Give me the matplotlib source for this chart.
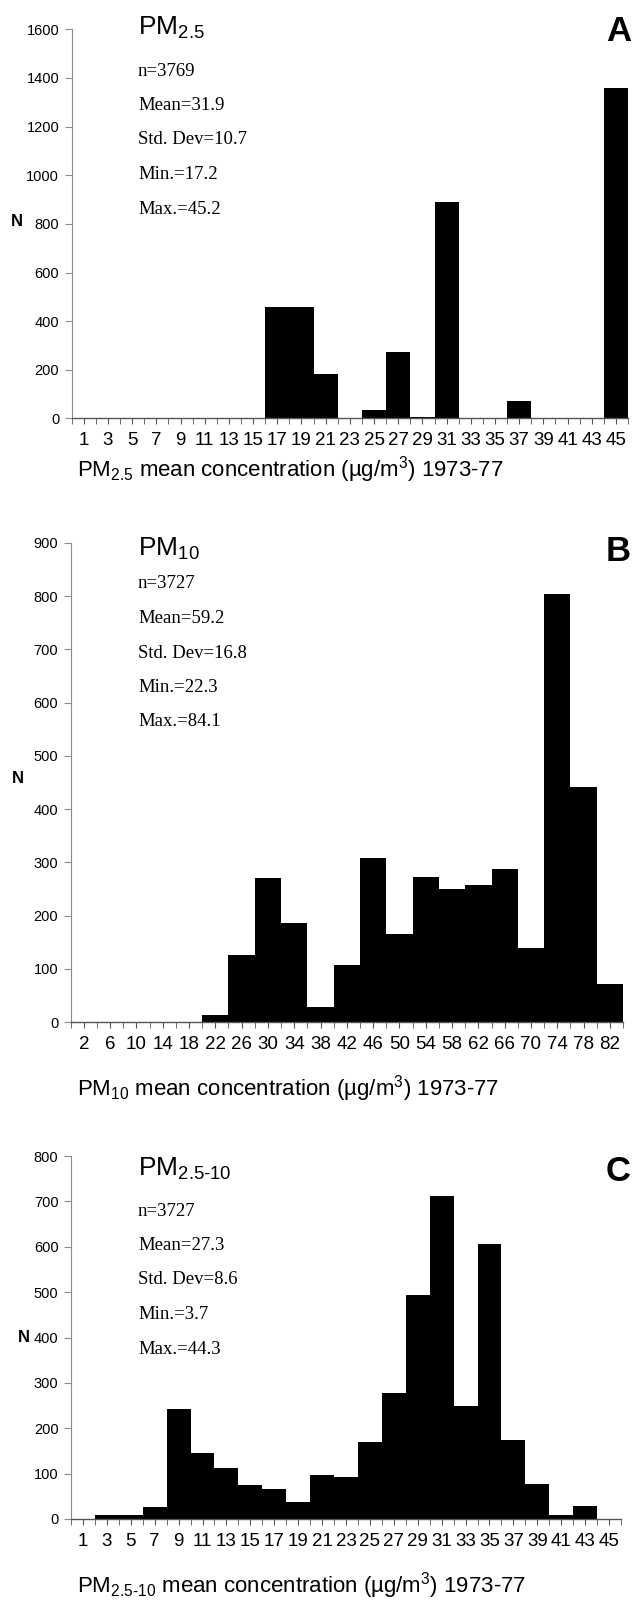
import numpy as np
import matplotlib
matplotlib.use('Agg')
import matplotlib.pyplot as plt
from matplotlib import font_manager

# ---- data ----
cats_a = [1, 3, 5, 7, 9, 11, 13, 15, 17, 19, 21, 23, 25, 27, 29, 31, 33, 35, 37, 39, 41, 43, 45]
n_a    = [1, 1, 1, 1, 1, 1, 1, 1, 460, 460, 183, 2, 33, 275, 5, 889, 4, 0, 73, 3, 3, 3, 1357]
stats_a = ['n=3769', 'Mean=31.9', 'Std. Dev=10.7', 'Min.=17.2', 'Max.=45.2']

cats_b = [2, 6, 10, 14, 18, 22, 26, 30, 34, 38, 42, 46, 50, 54, 58, 62, 66, 70, 74, 78, 82]
n_b    = [0, 0, 0, 0, 0, 13, 126, 271, 186, 28, 108, 309, 165, 273, 250, 258, 287, 139, 805, 442, 71]
stats_b = ['n=3727', 'Mean=59.2', 'Std. Dev=16.8', 'Min.=22.3', 'Max.=84.1']

cats_c = [1, 3, 5, 7, 9, 11, 13, 15, 17, 19, 21, 23, 25, 27, 29, 31, 33, 35, 37, 39, 41, 43, 45]
n_c    = [0, 8, 8, 26, 242, 145, 113, 75, 67, 37, 96, 92, 170, 277, 494, 712, 248, 606, 175, 77, 8, 28, 0]
stats_c = ['n=3727', 'Mean=27.3', 'Std. Dev=8.6', 'Min.=3.7', 'Max.=44.3']

W, H = 632, 1600
plt.rcParams['font.family'] = ['Liberation Sans', 'DejaVu Sans']
plt.rcParams['mathtext.fontset'] = 'custom'
plt.rcParams['mathtext.rm'] = 'Liberation Sans'
plt.rcParams['mathtext.it'] = 'Liberation Sans:italic'
plt.rcParams['mathtext.bf'] = 'Liberation Sans:bold'

names = {f.name for f in font_manager.fontManager.ttflist}
narrow = 'Liberation Sans Narrow' if 'Liberation Sans Narrow' in names else 'Liberation Sans'

fig = plt.figure(figsize=(W / 100, H / 100), dpi=100)


def fx(x):
    return x / W


def fy(y):
    return 1 - y / H


def panel(cats, vals, ymax, ystep, left, right, ytop, yzero, title, letter, stats,
          stat_y, stat_dy, title_y, letter_y, n_xy, xlabel, xlabel_y):
    ax = fig.add_axes([fx(left), fy(yzero), (right - left) / W, (yzero - ytop) / H])
    pos = np.arange(len(cats))
    # adjoining histogram bars drawn as one filled step outline (no seams)
    ax.stairs(vals, np.arange(len(cats) + 1) - 0.5, fill=True, color='black', linewidth=0)
    ax.set_xlim(-0.5, len(cats) - 0.5)
    ax.set_ylim(0, ymax)
    ax.set_yticks(np.arange(0, ymax + 1, ystep))
    ax.set_xticks(pos)
    ax.set_xticklabels([str(c) for c in cats], fontsize=13.5, family=narrow)
    ax.set_xticks(np.arange(-0.5, len(cats), 0.5), minor=True)
    ax.tick_params(axis='y', direction='out', length=5, color='#8c8c8c', labelsize=10.5, pad=4)
    ax.tick_params(axis='x', which='both', direction='out', length=4, color='#555555', pad=6)
    for s in ['top', 'right']:
        ax.spines[s].set_visible(False)
    ax.spines['left'].set_color('#8c8c8c')
    ax.spines['left'].set_linewidth(0.8)
    ax.spines['bottom'].set_color('#555555')
    ax.spines['bottom'].set_linewidth(1.0)

    fig.text(fx(138), fy(title_y), title, fontsize=19, va='baseline', ha='left')
    fig.text(fx(631), fy(letter_y), letter, fontsize=25, fontweight='bold', va='baseline', ha='right')
    for i, s in enumerate(stats):
        fig.text(fx(138), fy(stat_y + i * stat_dy), s, fontsize=13.5, family='Liberation Serif',
                 va='center', ha='left')
    fig.text(fx(n_xy[0]), fy(n_xy[1]), 'N', fontsize=12, fontweight='bold', va='center', ha='center')
    fig.text(fx(77), fy(xlabel_y), xlabel, fontsize=16, va='center', ha='left')
    return ax


panel(cats_a, n_a, 1600, 200, 71.7, 628, 29.3, 418.5, r'PM$_{\mathrm{2.5}}$', 'A', stats_a,
      71, 34.5, 35, 41, (17, 222), r'PM$_{\mathrm{2.5}}$ mean concentration (µg/m$^{\mathrm{3}}$) 1973-77', 470)

panel(cats_b, n_b, 900, 100, 70.7, 623, 543, 1022, r'PM$_{\mathrm{10}}$', 'B', stats_b,
      584, 34.5, 556, 561, (17.5, 779), r'PM$_{\mathrm{10}}$ mean concentration (µg/m$^{\mathrm{3}}$) 1973-77', 1089)

panel(cats_c, n_c, 800, 100, 71, 621, 1156, 1519, r'PM$_{\mathrm{2.5\text{-}10}}$', 'C', stats_c,
      1211, 34.5, 1176, 1181, (24, 1338), r'PM$_{\mathrm{2.5\text{-}10}}$ mean concentration (µg/m$^{\mathrm{3}}$) 1973-77', 1586)

fig.savefig('out.png', dpi=100)
